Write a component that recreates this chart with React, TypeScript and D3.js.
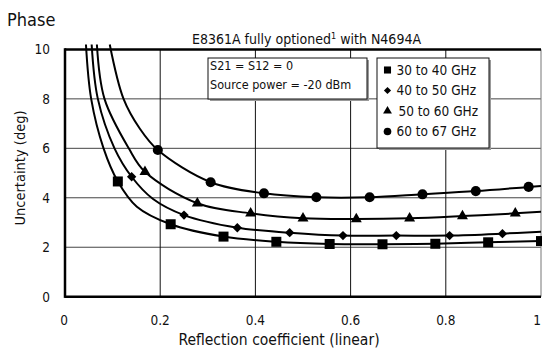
import React from 'react';
import * as d3 from 'd3';

const FONT = "'Liberation Sans Narrow','DejaVu Sans Condensed','Arial Narrow',sans-serif";

const xTicks = [0, 0.2, 0.4, 0.6, 0.8, 1];
const xTickLabels = ['0', '0.2', '0.4', '0.6', '0.8', '1'];
const yTicks = [0, 2, 4, 6, 8, 10];
const yTickLabels = ['0', '2', '4', '6', '8', '10'];
const yGrid = [2, 4, 6, 8];
const xGrid = [0.2, 0.4, 0.6, 0.8];

const seriesNames = ['30 to 40 GHz', '40 to 50 GHz', '50 to 60 GHz', '60 to 67 GHz'];
const seriesSymbols = ['square', 'diamond', 'triangle', 'circle'];

// marker points
const m30x = [0.111, 0.222, 0.333, 0.444, 0.556, 0.667, 0.778, 0.889, 1.0];
const m30y = [4.66, 2.93, 2.43, 2.22, 2.13, 2.12, 2.14, 2.2, 2.25];
const m40x = [0.14, 0.25, 0.362, 0.472, 0.584, 0.696, 0.808, 0.919];
const m40y = [4.85, 3.3, 2.79, 2.59, 2.47, 2.47, 2.47, 2.55];
const m50x = [0.168, 0.278, 0.39, 0.5, 0.612, 0.724, 0.835, 0.946];
const m50y = [5.05, 3.78, 3.37, 3.17, 3.14, 3.17, 3.26, 3.37];
const m60x = [0.195, 0.306, 0.418, 0.528, 0.64, 0.751, 0.863, 0.974];
const m60y = [5.93, 4.63, 4.18, 4.02, 4.02, 4.14, 4.27, 4.44];

// extra curve points (steep head, between markers, tail end)
const c30x = [0.044, 0.055, 0.081, 0.151];
const c30y = [10.2, 8, 6, 3.64];
const c40x = [0.056, 0.069, 0.104, 0.185, 1.0];
const c40y = [10.2, 8, 6, 3.95, 2.63];
const c50x = [0.067, 0.083, 0.134, 1.0];
const c50y = [10.2, 8, 6, 3.44];
const c60x = [0.094, 0.123, 0.157, 1.0];
const c60y = [10.2, 8, 6.8, 4.48];

const markerX = [m30x, m40x, m50x, m60x];
const markerY = [m30y, m40y, m50y, m60y];
const curveX = [c30x, c40x, c50x, c60x];
const curveY = [c30y, c40y, c50y, c60y];

const W = 542, H = 352;
const L = 65, R = 541, T = 49.4, B = 296.7;

const x = d3.scaleLinear().domain([0, 1]).range([L, R]);
const y = d3.scaleLinear().domain([0, 10]).range([B, T]);

function symbolPath(kind: string, size: number) {
  if (kind === 'square') return d3.symbol(d3.symbolSquare, size)()!;
  if (kind === 'circle') return d3.symbol(d3.symbolCircle, size)()!;
  if (kind === 'triangle') return d3.symbol(d3.symbolTriangle, size)()!;
  return d3.symbol(d3.symbolSquare, size)()!;
}

const markerSizes: Record<string, number> = { square: 100, circle: 80, triangle: 52, diamond: 44 };
const legendSizes: Record<string, number> = { square: 50, circle: 46, triangle: 34, diamond: 26 };

export default function App() {
  const line = d3.line<[number, number]>().x(d => x(d[0])).y(d => y(d[1])).curve(d3.curveCatmullRom.alpha(0.5));

  const curves = seriesNames.map((_, i) => {
    const pts: [number, number][] = [];
    markerX[i].forEach((v, j) => pts.push([v, markerY[i][j]]));
    curveX[i].forEach((v, j) => pts.push([v, curveY[i][j]]));
    pts.sort((a, b) => a[0] - b[0]);
    return line(pts)!;
  });

  const legendRowY = [70, 90.5, 111, 131.5];

  return (
    <svg width={W} height={H} style={{ position: 'absolute', left: 0, top: 0, background: '#fff' }}
      fontFamily={FONT}>
      <rect x={0} y={0} width={W} height={H} fill="#fff" />
      <text x={7} y={26} fontSize={18} fill="#111">Phase</text>
      <text x={192} y={44} fontSize={14} fill="#111">
        E8361A fully optioned<tspan fontSize={9} dy={-5}>1</tspan><tspan dy={5}> with N4694A</tspan>
      </text>

      {/* grid */}
      {yGrid.map(v => (
        <line key={'yg' + v} x1={L} x2={R} y1={y(v)} y2={y(v)} stroke="#444" strokeWidth={1} />
      ))}
      {xGrid.map(v => (
        <line key={'xg' + v} x1={x(v)} x2={x(v)} y1={T} y2={B} stroke="#111" strokeWidth={1} />
      ))}
      <line x1={R} x2={R} y1={T} y2={B} stroke="#777" strokeWidth={1} />

      {/* annotation box */}
      <rect x={210} y={60} width={159} height={41} fill="#999" />
      <rect x={208} y={58} width={159} height={41} fill="#fff" stroke="#111" strokeWidth={1} />
      <text x={210} y={69.5} fontSize={12.5} fill="#111">S21 = S12 = 0</text>
      <text x={210} y={89} fontSize={12.5} fill="#111">Source power = -20 dBm</text>

      {/* legend box */}
      <rect x={379} y={60} width={112} height={90} fill="#999" />
      <rect x={377} y={58} width={112} height={90} fill="#fff" stroke="#111" strokeWidth={1} />
      {seriesNames.map((name, i) => {
        const kind = seriesSymbols[i];
        return (
          <g key={'lg' + i}>
            <path d={symbolPath(kind, legendSizes[kind])}
              transform={`translate(387.5,${legendRowY[i]})${kind === 'diamond' ? ' rotate(45)' : ''}`}
              fill="#000" />
            <text x={i === 2 ? 398.5 : 396.5} y={legendRowY[i]} dy="0.36em" fontSize={13.5} fill="#111">{name}</text>
          </g>
        );
      })}

      {/* curves */}
      {curves.map((d, i) => (
        <path key={'c' + i} d={d} fill="none" stroke="#000" strokeWidth={2} />
      ))}
      {seriesNames.map((_, i) => {
        const kind = seriesSymbols[i];
        return markerX[i].map((v, j) => (
          <path key={'m' + i + '-' + j} d={symbolPath(kind, markerSizes[kind])}
            transform={`translate(${x(v)},${y(markerY[i][j])})${kind === 'diamond' ? ' rotate(45)' : ''}`}
            fill="#000" />
        ));
      })}

      {/* axes frame */}
      <line x1={L} x2={R} y1={T} y2={T} stroke="#000" strokeWidth={2.5} />
      <line x1={L} x2={L} y1={T - 1.2} y2={B + 1.2} stroke="#000" strokeWidth={2.5} />
      <line x1={L} x2={R} y1={B} y2={B} stroke="#000" strokeWidth={2.5} />

      {/* tick labels */}
      {yTicks.map((v, i) => (
        <text key={'yt' + v} x={50} y={y(v)} dy="0.36em" textAnchor="end" fontSize={13.5} fill="#111">{yTickLabels[i]}</text>
      ))}
      {xTicks.map((v, i) => (
        <text key={'xt' + v} x={v === 1 ? 541 : x(v) - (v === 0 ? 1 : 0)} y={325}
          textAnchor={v === 1 ? 'end' : 'middle'} fontSize={13.5} fill="#111">{xTickLabels[i]}</text>
      ))}
      <text x={279} y={345} textAnchor="middle" fontSize={15.5} fill="#111">Reflection coefficient (linear)</text>
      <text transform="translate(25,168) rotate(-90)" textAnchor="middle" fontSize={14.5} fill="#111">Uncertainty (deg)</text>
    </svg>
  );
}
